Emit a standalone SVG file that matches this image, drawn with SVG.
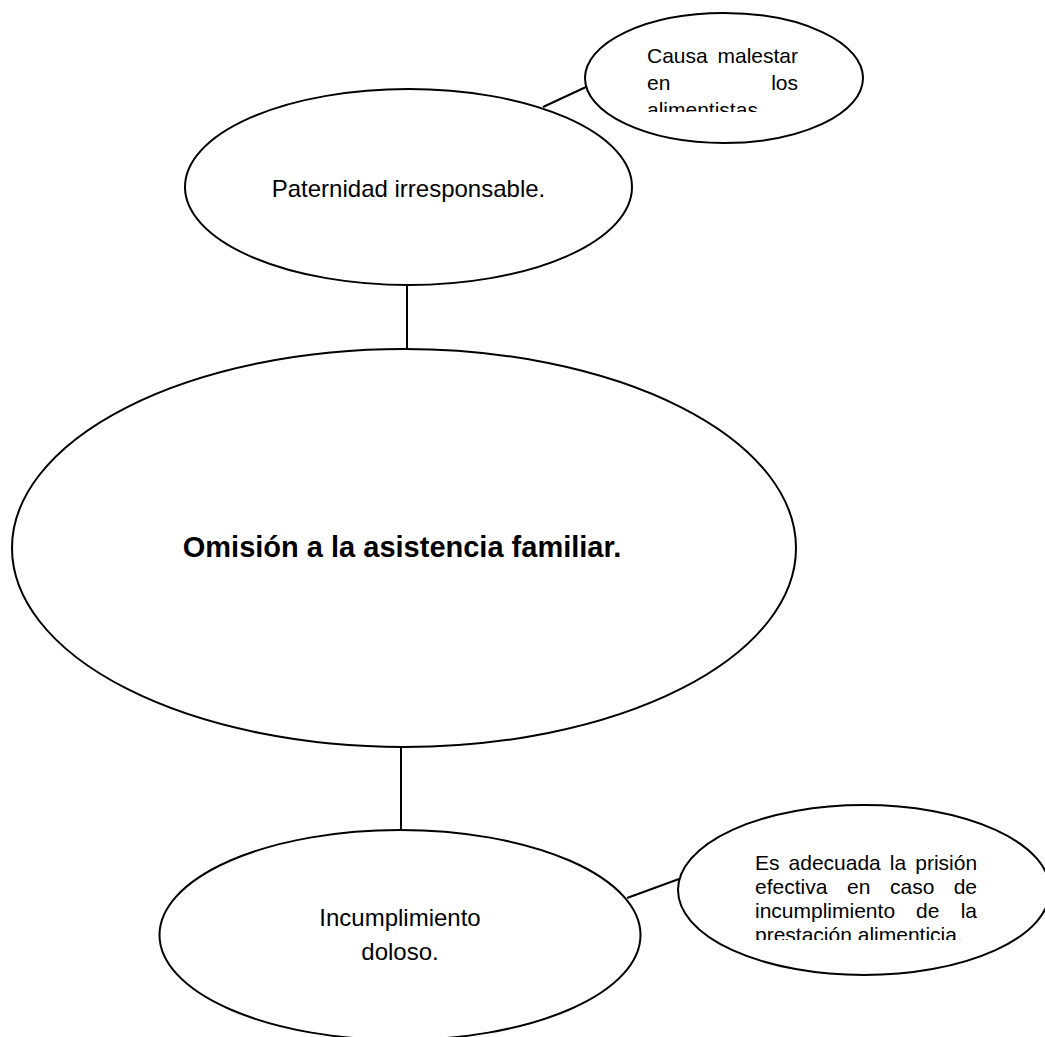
<svg xmlns="http://www.w3.org/2000/svg" width="1045" height="1037" viewBox="0 0 1045 1037">
<style>
.shape{fill:#fff;stroke:#000;stroke-width:2}
.conn{stroke:#000;stroke-width:2;fill:none}
.t{font-family:"Liberation Sans",Arial,sans-serif;fill:#000}
.n24{font-size:24px}
.n21{font-size:21px}
.b{font-size:29px;font-weight:bold}
</style>
<defs>
<clipPath id="clipTR"><rect x="640" y="40" width="170" height="72"/></clipPath>
<clipPath id="clipBR"><rect x="745" y="850" width="245" height="90"/></clipPath>
</defs>
<rect width="1045" height="1037" fill="#fff"/>
<g id="connectors">
<line class="conn" x1="407" y1="285" x2="407" y2="349"/>
<line class="conn" x1="401" y1="747" x2="401" y2="830"/>
<line class="conn" x1="543" y1="107" x2="586" y2="87"/>
<line class="conn" x1="627" y1="898" x2="679" y2="879"/>
</g>
<g id="node-paternidad">
<ellipse class="shape" cx="408.5" cy="187" rx="223.5" ry="98"/>
<text class="t n24" x="408.5" y="197" text-anchor="middle">Paternidad irresponsable.</text>
</g>
<g id="node-malestar">
<ellipse class="shape" cx="724" cy="78" rx="139" ry="65"/>
<g clip-path="url(#clipTR)">
<text class="t n21" x="647" y="63">Causa</text>
<text class="t n21" x="798" y="63" text-anchor="end">malestar</text>
<text class="t n21" x="647" y="90">en</text>
<text class="t n21" x="798" y="90" text-anchor="end">los</text>
<text class="t n21" x="647" y="117">alimentistas.</text>
</g>
</g>
<g id="node-omision">
<ellipse class="shape" cx="404" cy="548" rx="392" ry="199"/>
<text class="t b" x="402" y="557" text-anchor="middle">Omisión a la asistencia familiar.</text>
</g>
<g id="node-incumplimiento">
<ellipse class="shape" cx="400" cy="935" rx="240.5" ry="105"/>
<text class="t n24" x="400" y="926" text-anchor="middle">Incumplimiento</text>
<text class="t n24" x="400" y="960" text-anchor="middle">doloso.</text>
</g>
<g id="node-prision">
<ellipse class="shape" cx="864" cy="890" rx="186" ry="85"/>
<g clip-path="url(#clipBR)">
<text class="t n21" x="755" y="870" word-spacing="3.2">Es adecuada la prisión</text>
<text class="t n21" x="755" y="894">efectiva</text>
<text class="t n21" x="847" y="894">en</text>
<text class="t n21" x="890" y="894">caso</text>
<text class="t n21" x="977" y="894" text-anchor="end">de</text>
<text class="t n21" x="755" y="918">incumplimiento</text>
<text class="t n21" x="916" y="918">de</text>
<text class="t n21" x="977" y="918" text-anchor="end">la</text>
<text class="t n21" x="755" y="942">prestación alimenticia.</text>
</g>
</g>
</svg>
